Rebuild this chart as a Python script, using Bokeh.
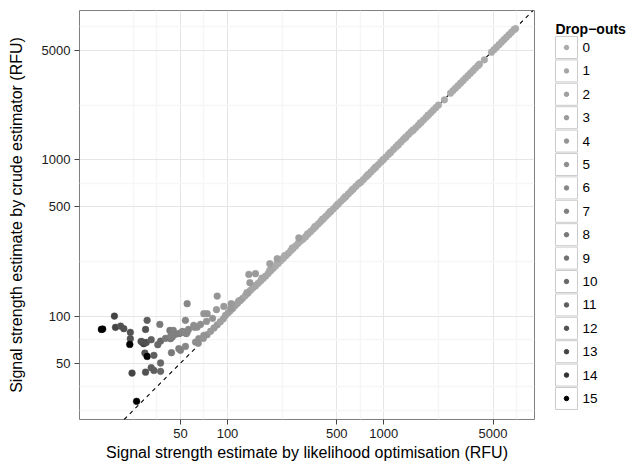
from bokeh.plotting import figure
from bokeh.layouts import row
from bokeh.models import (ColumnDataSource, FixedTicker, PrintfTickFormatter, Range1d,
                          Slope, LinearColorMapper)
from bokeh.transform import transform
from bokeh.embed import file_html
from bokeh.resources import INLINE
from bokeh.core.properties import value

FONT = "Liberation Sans"

# Number of drop-outs and the grey shade used for each level
dropout_levels = list(range(16))
grey_shades = ["#ABABAB", "#A6A6A6", "#A0A0A0", "#9A9A9A", "#949494", "#8E8E8E",
               "#878787", "#808080", "#797979", "#717171", "#686868", "#5E5E5E",
               "#525252", "#444444", "#323232", "#000000"]

# Axis ticks (RFU)
x_ticks = [50, 100, 500, 1000, 5000]
y_ticks = [50, 100, 500, 1000, 5000]
minor_breaks = [25, 35.36, 70.71, 223.6, 707.1, 2236, 7071]

# Alleles with no drop-outs: the two estimators agree closely
main_likelihood = [97, 101, 104, 108, 112, 116, 121, 125, 130, 135, 140, 145, 151, 157,
                   163, 169, 175, 182, 189, 196, 203, 211, 219, 227, 236, 245, 254, 263,
                   273, 283, 294, 305, 316, 328, 341, 354, 367, 381, 395, 410, 425, 441,
                   458, 475, 493, 512, 531, 551, 572, 593, 615, 638, 662, 687, 713, 740,
                   768, 797, 827, 858, 890, 923, 958, 994, 1031, 1070, 1110, 1152, 1195,
                   1240, 1287, 1335, 1385, 1437, 1491, 1547, 1605, 1665, 1728, 1793, 1860,
                   1930, 2002, 2077, 2155, 2236,
                   2443,
                   2671, 2771, 2875, 2983, 3095, 3211, 3331, 3456, 3586, 3720, 3860, 4005,
                   4093,
                   4400,
                   4887, 5070, 5260, 5457, 5662, 5874, 6094, 6323, 6560, 6806, 6961,
                   105, 118, 133, 148, 166, 186, 208, 232, 260, 290, 325, 362, 405, 452,
                   505, 565, 630, 705, 790, 880, 985, 1100, 1230, 1375, 1535, 1715, 1915]
main_crude = [101, 105, 108, 112, 117, 121, 126, 130, 135, 140, 146, 151, 156, 162,
              168, 174, 180, 187, 195, 202, 209, 217, 226, 234, 243, 252, 262, 271,
              281, 292, 303, 311, 322, 335, 348, 361, 374, 389, 403, 418, 434, 450,
              467, 485, 503, 522, 542, 562, 583, 605, 627, 651, 675, 701, 720, 747,
              776, 805, 835, 867, 899, 932, 968, 1004, 1041, 1081, 1121, 1164, 1207,
              1252, 1300, 1348, 1399, 1451, 1506, 1550, 1608, 1668, 1731, 1796, 1863,
              1933, 2005, 2080, 2158, 2239,
              2420,
              2668, 2770, 2872, 2980, 3093, 3208, 3330, 3452, 3584, 3716, 3858, 4001,
              4090,
              4360,
              4880, 5062, 5252, 5450, 5655, 5866, 6086, 6315, 6550, 6796, 6910,
              112, 125, 141, 156, 175, 196, 219, 244, 273, 302, 336, 374, 417, 464,
              517, 578, 643, 715, 800, 890, 995, 1110, 1240, 1385, 1545, 1725, 1925]
main_dropouts = [2, 2, 2, 2, 2, 2, 2, 2, 1, 1, 1, 1, 1, 1, 1, 1, 1, 1, 1, 1, 0, 0, 0, 0,
                 0, 0, 0, 0, 0, 0, 0, 0, 0, 0, 0, 0, 0, 0, 0, 0, 0, 0, 0, 0, 0, 0, 0, 0,
                 0, 0, 0, 0, 0, 0, 0, 0, 0, 0, 0, 0, 0, 0, 0, 0, 0, 0, 0, 0, 0, 0, 0, 0,
                 0, 0, 0, 0, 0, 0, 0, 0, 0, 0, 0, 0, 0, 0,
                 0,
                 0, 0, 0, 0, 0, 0, 0, 0, 0, 0, 0, 0,
                 0,
                 0,
                 0, 0, 0, 0, 0, 0, 0, 0, 0, 0, 0,
                 3, 2, 2, 1, 1, 1, 0, 0, 0, 0, 0, 0, 0, 0,
                 0, 0, 0, 0, 0, 0, 0, 0, 0, 0, 0, 0, 0]

# Weak alleles, where drop-outs make the crude estimate run high
low_likelihood = [15.6, 15.9, 18.9, 19.2, 20.7, 21.7, 23.9, 23.9, 23.7, 24.5, 26.2,
                  30.6, 36.9, 29.9, 28.5, 29.1, 28.0, 30.2, 32.5, 29.6, 30.6, 33.8,
                  37.3, 35.8, 42.8, 43.2, 37.3, 32.5, 33.8, 29.9, 37.3, 55.2, 43.8,
                  50.0, 48.8, 50.0, 55.2, 48.8, 53.8, 62.4, 65.5, 70.5, 85.9, 70.5,
                  74.1, 85.0, 94.7, 105.6, 53.8, 60.8, 63.9, 45.0, 52.5, 54.5, 44.3,
                  136.9, 151.0, 139.0, 285.8, 208.0, 186.5,
                  40.1, 43.2, 46.5, 51.5, 56.3, 61.5, 67.2, 73.4, 80.2,
                  65, 70, 74, 78, 82, 86, 90, 94]
low_crude = [82.2, 82.6, 100.0, 84.7, 86.3, 83.1, 78.7, 71.7, 65.9, 43.2, 28.5,
             93.9, 88.5, 82.2, 68.2, 66.6, 68.9, 67.8, 70.6, 58.0, 55.2, 56.1,
             69.2, 65.6, 81.0, 71.7, 50.1, 46.8, 44.9, 43.8, 44.3, 120.0, 58.3,
             60.4, 77.2, 77.9, 79.0, 61.9, 64.0, 68.2, 71.7, 75.3, 134.3, 103.6,
             103.6, 109.9, 115.3, 120.0, 93.9, 87.2, 85.0, 81.0, 79.0, 77.2, 73.4,
             184.8, 186.7, 163.5, 317.0, 232.8, 216.3,
             72.0, 74.2, 76.4, 79.8, 82.2, 84.7, 88.5, 92.5, 96.7,
             67, 72, 76, 80, 84, 88, 92, 96]
low_dropouts = [15, 15, 13, 13, 12, 12, 12, 12, 15, 13, 15,
                11, 8, 12, 14, 13, 12, 12, 11, 12, 15, 11,
                10, 10, 8, 8, 10, 11, 11, 12, 10, 6, 8,
                7, 7, 7, 6, 7, 6, 5, 5, 4, 4, 4,
                4, 3, 3, 3, 6, 5, 5, 7, 7, 6, 8,
                3, 3, 3, 2, 2, 2,
                8, 7, 7, 6, 6, 5, 5, 4, 4,
                5, 4, 4, 3, 3, 3, 2, 2]

source = ColumnDataSource(data=dict(
    likelihood=main_likelihood + low_likelihood,
    crude=main_crude + low_crude,
    dropouts=main_dropouts + low_dropouts,
))

shade = LinearColorMapper(palette=grey_shades, low=-0.5, high=15.5)

FRAME_TOP = 10
FRAME_BOTTOM = 55

p = figure(width=545, height=474, x_axis_type="log", y_axis_type="log",
           x_range=Range1d(11.3, 9205), y_range=Range1d(21.8, 9016),
           output_backend="svg", toolbar_location=None,
           min_border_left=79, min_border_right=11, min_border_top=FRAME_TOP,
           min_border_bottom=FRAME_BOTTOM)
p.background_fill_color = "white"
p.border_fill_color = "white"
p.outline_line_color = "#7F7F7F"
p.outline_line_width = 1

xt = FixedTicker(ticks=x_ticks, minor_ticks=minor_breaks)
yt = FixedTicker(ticks=y_ticks, minor_ticks=minor_breaks)
p.xaxis.ticker = xt
p.yaxis.ticker = yt
p.xgrid.ticker = xt
p.ygrid.ticker = yt
for ax in (p.xaxis, p.yaxis):
    ax.formatter = PrintfTickFormatter(format="%d")
    ax.axis_line_color = None
    ax.major_tick_line_color = "#444444"
    ax.major_tick_in = 0
    ax.major_tick_out = 5
    ax.minor_tick_line_color = None
    ax.major_label_text_font = FONT
    ax.major_label_text_font_size = "13px"
    ax.major_label_text_color = "#1A1A1A"
    ax.major_label_standoff = 4
    ax.axis_label_text_font = FONT
    ax.axis_label_text_font_size = "16px"
    ax.axis_label_text_font_style = "normal"
    ax.axis_label_text_color = "black"
p.xaxis.axis_label = "Signal strength estimate by likelihood optimisation (RFU)"
p.yaxis.axis_label = "Signal strength estimate by crude estimator (RFU)"
p.xaxis.axis_label_standoff = 3
p.yaxis.axis_label_standoff = 14

for g in (p.xgrid, p.ygrid):
    g.grid_line_color = "#E5E5E5"
    g.grid_line_width = 1
    g.minor_grid_line_color = "#F6F6F6"
    g.minor_grid_line_width = 1.5

# Identity line sits beneath the points
p.add_layout(Slope(gradient=1, y_intercept=0, line_color="black",
                   line_width=1.1, line_dash="4 4", level="underlay"))

p.scatter("likelihood", "crude", source=source, size=6.8,
          fill_color=transform("dropouts", shade),
          line_color=transform("dropouts", shade), line_width=0.4)

# Legend panel: one keyed row per drop-out level.  Its frame shares the
# main plot's vertical extent, so rows are placed relative to that frame.
pitch = 23.4
first_row = 47
title_y = 28
frame_h = 474 - FRAME_TOP - FRAME_BOTTOM
top_val = (first_row - FRAME_TOP) / pitch
leg = figure(width=83, height=474, x_range=Range1d(0, 83),
             y_range=Range1d(top_val - frame_h / pitch, top_val),
             output_backend="svg", toolbar_location=None,
             x_axis_location=None, y_axis_location=None,
             min_border_left=0, min_border_right=0,
             min_border_top=FRAME_TOP, min_border_bottom=FRAME_BOTTOM)
leg.outline_line_color = None
leg.grid.visible = False
leg.background_fill_color = "white"
leg.border_fill_color = "white"

leg_source = ColumnDataSource(data=dict(
    level=dropout_levels,
    row=[-i for i in range(len(dropout_levels))],
    label=[str(v) for v in dropout_levels],
))
leg.rect(x=21, y="row", width=22, height=22, width_units="screen",
         height_units="screen", source=leg_source, fill_color="white",
         line_color="#CCCCCC", line_width=1)
leg.scatter(x=21, y="row", size=4.5, source=leg_source,
            fill_color=transform("level", shade), line_color=transform("level", shade))
leg.text(x=37, y="row", text="label", source=leg_source, text_font=value(FONT),
         text_font_size="13.5px", text_baseline="middle", text_align="left",
         text_color="black")
leg.text(x=10, y=top_val - (title_y - FRAME_TOP) / pitch, text=value("Drop\u2212outs"),
         text_font=value(FONT), text_font_size="14px", text_font_style="bold",
         text_baseline="middle", text_align="left", text_color="black")

layout = row(p, leg)
open("out.html", "w").write(file_html(layout, INLINE))
